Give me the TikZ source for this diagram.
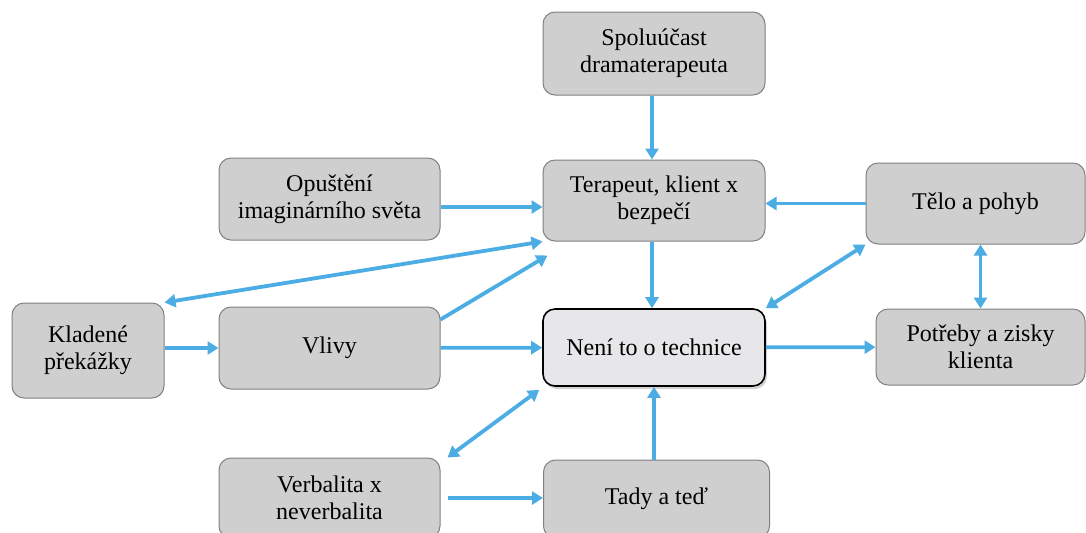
\documentclass[tikz,border=0pt]{standalone}
\usepackage{fontspec}
\setmainfont{Liberation Serif}
\usetikzlibrary{arrows.meta,shadows}
\definecolor{boxgray}{RGB}{208,207,207}
\definecolor{boxline}{RGB}{128,128,128}
\definecolor{arrowblue}{RGB}{76,172,228}
\definecolor{mainfill}{RGB}{231,230,233}
\begin{document}
\begin{tikzpicture}[x=0.5pt, y=-0.5pt,
    box/.style={draw=boxline, fill=boxgray, line width=0.5pt, rounded corners=6pt, align=center, inner sep=0pt, font=\fontsize{12}{13.5}\selectfont},
    mainbox/.style={box, draw=black, fill=mainfill, line width=0.8pt, drop shadow={shadow xshift=1pt, shadow yshift=-1.5pt, opacity=0.35}},
    arr/.style={draw=arrowblue, line width=1.9pt, -{Triangle[length=5.5pt,width=6.5pt]}},
    both/.style={arr, {Triangle[length=5.5pt,width=6.5pt]}-{Triangle[length=5.5pt,width=6.5pt]}}]
\useasboundingbox (0,0) rectangle (1086,532);
\node[box, minimum width=111pt, minimum height=41.5pt] (spolu) at (654,53.5) {Spoluúčast\\dramaterapeuta};
\node[box, minimum width=111pt, minimum height=40.5pt] (terap) at (654,200.5) {Terapeut, klient x\\bezpečí};
\node[box, minimum width=110.5pt, minimum height=41pt] (opust) at (329.5,199) {Opuštění\\imaginárního světa};
\node[box, minimum width=109.5pt, minimum height=40.5pt] (telo) at (975.5,203.5) {Tělo a pohyb};
\node[box, minimum width=76pt, minimum height=47.5pt] (klad) at (88,350.5) {Kladené\\překážky};
\node[box, minimum width=110.5pt, minimum height=41pt] (vlivy) at (329.5,348) {Vlivy};
\node[mainbox, minimum width=111pt, minimum height=38.5pt] (neni) at (654,347.5) {Není to o technice};
\node[box, minimum width=104.5pt, minimum height=38pt] (potreby) at (980.5,347) {Potřeby a zisky\\klienta};
\node[box, minimum width=110.5pt, minimum height=40pt] (verb) at (329.5,498) {Verbalita x\\neverbalita};
\node[box, minimum width=113pt, minimum height=39pt] (tady) at (656.5,499) {Tady a teď};

\draw[arr] ([xshift=-1pt]spolu.south) -- ([xshift=-1pt]terap.north);
\draw[arr] ([yshift=-4pt]opust.east) -- ([yshift=-4pt]opust.east -| terap.west);
\draw[arr] (telo.west) -- (telo.west -| terap.east);
\draw[both] (klad.north east) -- (terap.south west);
\draw[arr] ([yshift=-6.5pt]vlivy.north east) -- ([shift={(2.5pt,-7pt)}]terap.south west);
\draw[arr] (klad.east |- vlivy.west) -- (vlivy.west);
\draw[arr] (vlivy) -- (neni);
\draw[arr] ([xshift=-1pt]terap.south) -- ([xshift=-1pt]neni.north);
\draw[both] (neni.north east) -- (telo.south west);
\draw[both] (potreby.north) -- (potreby.north |- telo.south);
\draw[arr] (neni) -- (potreby);
\draw[both] ([xshift=3.5pt]verb.north east) -- ([shift={(-1.5pt,-1.5pt)}]neni.south west);
\draw[arr] ([xshift=3.5pt]verb.east) -- (verb.east -| tady.west);
\draw[arr] (tady.north -| neni) -- (neni);
\end{tikzpicture}
\end{document}
